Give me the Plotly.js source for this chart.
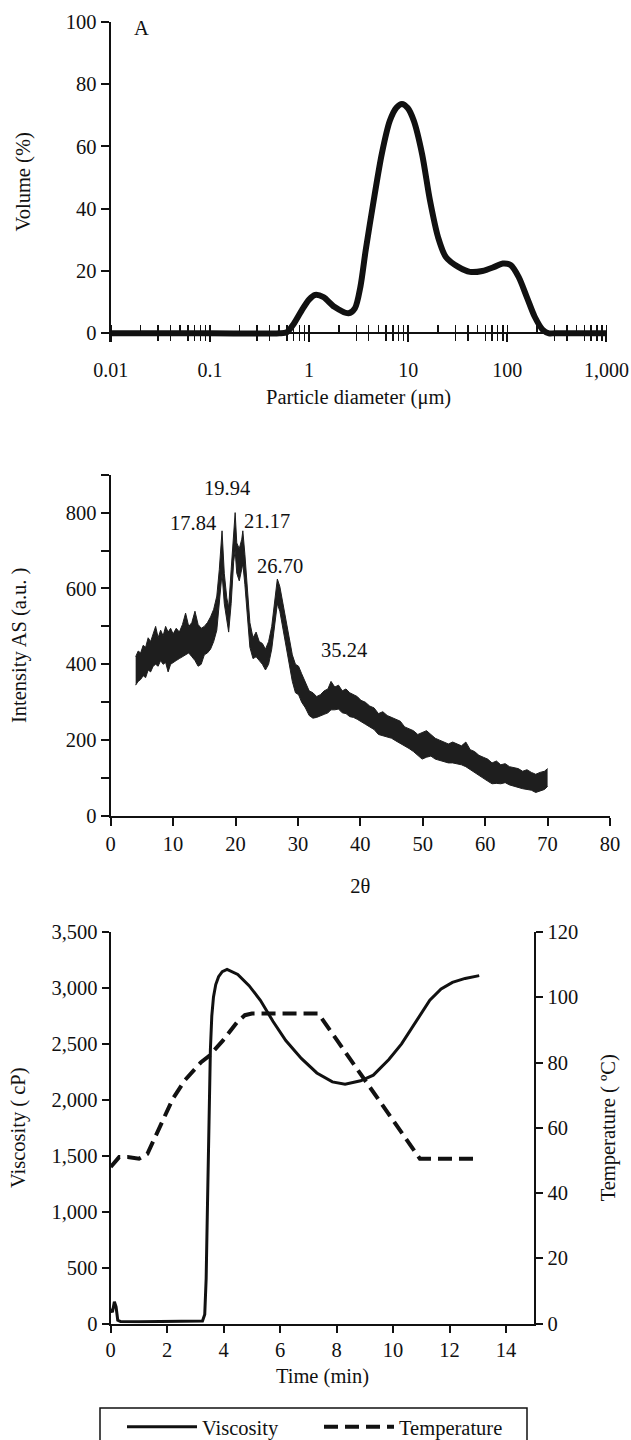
<!DOCTYPE html>
<html>
<head>
<meta charset="utf-8">
<script src="https://cdn.plot.ly/plotly-3.0.1.min.js"></script>
<style>
  body { margin: 0; background: #fff; }
</style>
</head>
<body>
<div id="chart" style="width:631px;height:1440px;"></div>
<script>
// ---- A: particle size distribution ----
var sizeUm = [0.01, 0.1, 0.5, 0.6, 0.7, 0.85, 1.0, 1.15, 1.4, 1.8, 2.5, 2.9, 3.3, 3.73, 4.49, 5.42, 6.53, 7.6, 8.65, 9.9, 11.4, 13.8, 16.6, 20, 24, 32, 42, 56, 74, 90, 108, 130, 157, 189, 228, 263, 300, 1000];
var volumePct = [0, 0, 0, 0.4, 3, 7.5, 10.8, 12.3, 11.6, 8.5, 6.4, 8, 15, 26.7, 42.6, 57.6, 68.2, 72.4, 73.6, 72.3, 68.2, 57.6, 42.6, 30.9, 24.5, 21.3, 19.7, 20, 21.3, 22.4, 21.9, 18.1, 11.7, 5.3, 1.1, 0, 0, 0];
var sizeTickVals = [0.01, 0.1, 1, 10, 100, 1000];
var sizeTickText = ['0.01', '0.1', '1', '10', '100', '1,000'];

// ---- B: XRD pattern (upper and lower edge of the noisy trace) ----
var twoTheta = [4, 4.4, 4.8, 5.2, 5.6, 6.0, 6.4, 6.8, 7.2, 7.6, 8.0, 8.4, 8.8, 9.2, 9.6, 10.0, 10.5, 11.0, 11.5, 12.0,
  12.5, 13.0, 13.5, 14.0, 14.5, 15.0, 15.5, 16.0, 16.5, 17.0, 17.4, 17.84, 18.2, 18.6, 18.9, 19.3, 19.7, 19.94, 20.2, 20.6,
  21.0, 21.17, 21.5, 21.9, 22.3, 22.8, 23.3, 23.8, 24.3, 24.8, 25.3, 25.8, 26.3, 26.7, 27.1, 27.6, 28.1, 28.6, 29.1, 29.6,
  30.1, 30.6, 31.2, 31.8, 32.4, 33.0, 33.6, 34.2, 34.8, 35.3, 35.9, 36.5, 37.1, 37.7, 38.3, 38.9, 39.5, 40.1, 40.8, 41.5,
  42.2, 42.9, 43.6, 44.3, 45.0, 45.7, 46.4, 47.1, 47.8, 48.5, 49.2, 49.9, 50.6, 51.3, 52.0, 52.7, 53.4, 54.1, 54.8, 55.5,
  56.2, 56.9, 57.6, 58.3, 59.0, 59.7, 60.4, 61.1, 61.8, 62.5, 63.2, 63.9, 64.6, 65.3, 66.0, 66.7, 67.4, 68.1, 68.8, 69.5, 70];
var intensityHigh = [420, 435, 430, 450, 445, 470, 460, 480, 500, 470, 490, 475, 500, 485, 495, 480, 495, 485, 505, 535,
  500, 510, 540, 505, 495, 500, 510, 525, 545, 580, 650, 752, 640, 575, 550, 650, 760, 800, 720, 705,
  730, 752, 690, 600, 510, 470, 485, 460, 455, 440, 460, 500, 570, 625, 605, 560, 505, 460, 425, 400,
  395, 375, 350, 330, 325, 315, 320, 330, 335, 355, 340, 345, 330, 335, 325, 320, 315, 305, 300, 290,
  285, 270, 275, 265, 260, 255, 250, 235, 230, 225, 215, 220, 225, 215, 205, 200, 195, 190, 195, 190,
  185, 195, 175, 170, 160, 155, 150, 140, 145, 135, 138, 130, 128, 125, 118, 122, 115, 110, 115, 118, 125];
var intensityLow = [345, 355, 360, 370, 365, 385, 380, 395, 400, 395, 410, 400, 405, 380, 400, 405, 410, 415, 420, 425,
  430, 420, 410, 395, 400, 425, 430, 440, 460, 490, 560, 640, 560, 515, 485, 560, 670, 700, 640, 620,
  650, 665, 610, 520, 445, 415, 420, 410, 400, 385, 400, 440, 505, 560, 540, 495, 440, 395, 355, 325,
  320, 300, 285, 265, 258, 260, 265, 268, 272, 280, 280, 282, 272, 270, 262, 260, 255, 248, 242, 235,
  228, 215, 212, 208, 205, 198, 192, 185, 178, 170, 160, 150, 155, 158, 150, 146, 144, 140, 140, 138,
  135, 130, 122, 115, 108, 100, 92, 85, 86, 85, 88, 82, 78, 75, 72, 70, 68, 62, 66, 70, 78];
var peakLabels = ['17.84', '19.94', '21.17', '26.70', '35.24'];

// ---- C: pasting profile ----
var timeVisc = [0, 0.06, 0.13, 0.19, 0.25, 0.35, 1, 2, 3, 3.25, 3.33, 3.38, 3.43, 3.48, 3.53, 3.58, 3.64, 3.72, 3.82, 3.95, 4.12,
  4.5, 4.9, 5.3, 5.75, 6.2, 6.75, 7.3, 7.85, 8.3, 8.85, 9.3, 9.85, 10.3, 10.85, 11.3, 11.7, 12.1, 12.55, 13.05];
var viscosity = [130, 100, 195, 150, 30, 18, 16, 16, 16, 22, 80, 400, 1100, 1900, 2450, 2750, 2920, 3030, 3100, 3145, 3165,
  3120, 3020, 2890, 2700, 2530, 2370, 2240, 2160, 2140, 2170, 2220, 2360, 2500, 2720, 2890, 2990, 3050, 3085, 3110];
var timeTemp = [0, 0.15, 0.3, 0.6, 1.0, 1.3, 1.77, 2.2, 2.62, 3.19, 3.48, 3.97, 4.47, 4.75, 5.0, 6.0, 7.0, 7.35, 8.0, 9.0, 10.0, 10.95, 11.2, 12.0, 13.05];
var temperature = [48, 49.5, 51, 51, 50.5, 52, 61, 68.9, 74.5, 80, 82, 86.7, 92.3, 94.5, 95, 95, 95, 95, 87, 74.5, 62, 50.5, 50.5, 50.5, 50.5];

var W = 631, H = 1440;
function px(v) { return v / W; }
function py(v) { return 1 - v / H; }

var font = { family: '"Liberation Serif", "Times New Roman", serif', size: 20.5, color: '#111' };
var ink = '#111';

var baseAxis = {
  showline: true, linecolor: ink, linewidth: 2,
  ticks: 'outside', ticklen: 8, tickwidth: 2, tickcolor: ink,
  showgrid: false, zeroline: false, fixedrange: true,
  tickfont: font
};
function axis(extra) { return Object.assign({}, baseAxis, extra); }

var data = [
  { x: sizeUm, y: volumePct, xaxis: 'x', yaxis: 'y', mode: 'lines', showlegend: false,
    line: { color: ink, width: 6, shape: 'spline', smoothing: 0.8 } },
  // empty helper so the overlaid tick axis of panel A gets drawn
  { x: [], y: [], xaxis: 'x4', yaxis: 'y', mode: 'lines', showlegend: false },
  { x: twoTheta, y: intensityLow, xaxis: 'x2', yaxis: 'y2', mode: 'lines', showlegend: false,
    line: { color: '#1e1e1e', width: 1 } },
  { x: twoTheta, y: intensityHigh, xaxis: 'x2', yaxis: 'y2', mode: 'lines', showlegend: false,
    fill: 'tonexty', fillcolor: '#1e1e1e', line: { color: '#1e1e1e', width: 1 } },
  { x: timeVisc, y: viscosity, xaxis: 'x3', yaxis: 'y3', mode: 'lines', name: 'Viscosity',
    line: { color: ink, width: 3 } },
  { x: timeTemp, y: temperature, xaxis: 'x3', yaxis: 'y5', mode: 'lines', name: 'Temperature',
    line: { color: ink, width: 4, dash: '14px,7px' } }
];

var domA = [px(110.7), px(606.5)];
var domB = [px(110.7), px(610)];
var domC = [px(110.7), px(534.3)];
var logRange = [-2.0005, 3.0005];
var fontA = Object.assign({}, font, { size: 20 });

var layout = {
  width: W, height: H,
  margin: { l: 0, r: 0, t: 0, b: 0, autoexpand: false },
  paper_bgcolor: '#fff', plot_bgcolor: 'rgba(0,0,0,0)',
  font: font,
  showlegend: true,

  // A
  xaxis: axis({
    type: 'log', range: logRange, domain: domA, anchor: 'free', position: py(333.3),
    tickmode: 'array', tickvals: sizeTickVals, ticktext: sizeTickText, ticklabelstandoff: 11,
    ticklabeloverflow: 'allow', tickfont: fontA,
    minor: { ticks: 'inside', ticklen: 7, tickwidth: 1.5, tickcolor: ink, dtick: 'D1', showgrid: false },
    title: { text: 'Particle diameter (\u03bcm)', font: font, standoff: 8 }
  }),
  xaxis4: axis({
    type: 'log', range: logRange, domain: domA, overlaying: 'x', anchor: 'free', position: py(333.3),
    showline: false, ticks: '', showticklabels: false,
    minor: { ticks: 'outside', ticklen: 7, tickwidth: 1.5, tickcolor: ink, dtick: 'D1', showgrid: false }
  }),
  yaxis: axis({
    range: [-2.8, 100], domain: [py(342), py(21.7)], anchor: 'x',
    tickmode: 'linear', tick0: 0, dtick: 20,
    title: { text: 'Volume (%)', font: font, standoff: 30 }
  }),

  // B
  xaxis2: axis({
    range: [0, 80], domain: domB, anchor: 'y2', tickmode: 'linear', tick0: 0, dtick: 10,
    ticklabeloverflow: 'allow',
    title: { text: '2\u03b8', font: font, standoff: 25 }
  }),
  yaxis2: axis({
    range: [0, 900], domain: [py(816), py(474.7)], anchor: 'x2', tickmode: 'linear', tick0: 0, dtick: 200,
    minor: { ticks: 'outside', ticklen: 8, tickwidth: 2, tickcolor: ink, dtick: 100, tick0: 0, showgrid: false },
    title: { text: 'Intensity AS (a.u. )', font: font, standoff: 34 }
  }),

  // C
  xaxis3: axis({
    range: [0, 15], domain: domC, anchor: 'y3', tickmode: 'linear', tick0: 0, dtick: 2, ticklen: 7,
    title: { text: 'Time (min)', font: font, standoff: 9 }
  }),
  yaxis3: axis({
    range: [0, 3500], domain: [py(1323.5), py(932)], anchor: 'x3', tickmode: 'linear', tick0: 0, dtick: 500,
    tickformat: ',d', ticklen: 7,
    title: { text: 'Viscosity ( cP)', font: font, standoff: 20 }
  }),
  yaxis5: axis({
    range: [0, 120], overlaying: 'y3', side: 'right', anchor: 'x3', tickmode: 'linear', tick0: 0, dtick: 20,
    ticklen: 7,
    title: { text: 'Temperature ( \u00baC)', font: font, standoff: 23 }
  }),

  legend: {
    orientation: 'h', traceorder: 'normal', x: px(122), xanchor: 'left', y: py(1427), yanchor: 'middle',
    itemwidth: 70, entrywidth: 112, entrywidthmode: 'pixels',
    bgcolor: 'rgba(0,0,0,0)', borderwidth: 0, font: font
  },

  shapes: [
    { type: 'rect', xref: 'paper', yref: 'paper', x0: px(100), x1: px(527), y0: py(1470), y1: py(1408),
      line: { color: ink, width: 1.5 }, fillcolor: 'rgba(0,0,0,0)' }
  ],

  annotations: [
    { xref: 'x', yref: 'y', x: -1.686, y: 98, text: 'A' },
    { xref: 'x2', yref: 'y2', x: 4.2, y: 902, text: 'B' },
    { xref: 'x2', yref: 'y2', x: 13.2, y: 773, text: peakLabels[0] },
    { xref: 'x2', yref: 'y2', x: 18.65, y: 865, text: peakLabels[1] },
    { xref: 'x2', yref: 'y2', x: 25.06, y: 778, text: peakLabels[2] },
    { xref: 'x2', yref: 'y2', x: 27.15, y: 659, text: peakLabels[3] },
    { xref: 'x2', yref: 'y2', x: 37.4, y: 438, text: peakLabels[4] }
  ].map(function (a) {
    return Object.assign({ showarrow: false, font: font, xanchor: 'center', yanchor: 'middle' }, a);
  })
};

Plotly.newPlot('chart', data, layout, { displayModeBar: false, staticPlot: true });
</script>
</body>
</html>
